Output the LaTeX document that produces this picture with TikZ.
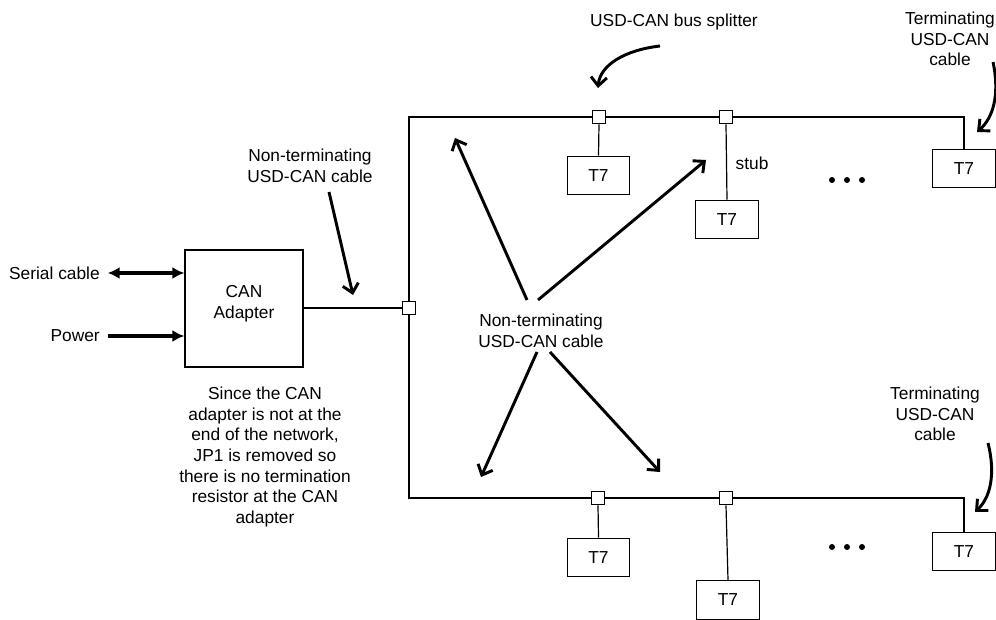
\documentclass[tikz,border=0pt]{standalone}
\usepackage{fontspec}
\setmainfont{Liberation Sans}
\usetikzlibrary{arrows.meta}
\tikzset{
  box/.style={draw, line width=0.9pt, minimum width=47pt, minimum height=29pt, inner sep=0pt},
  splitter/.style={draw, line width=0.9pt, minimum size=10pt, inner sep=0pt},
  bus/.style={line width=0.9pt},
  callout/.style={line width=2.2pt, -{Straight Barb[length=6.5pt,width=12pt]}},
  feed/.style={line width=2.6pt},
  feedtip/.tip={Latex[length=9pt,width=9pt]},
  label/.style={align=center, inner sep=0.75pt, font=\fontsize{13}{15.5}\selectfont}
}
\begin{document}
\begin{tikzpicture}[x=0.75pt,y=0.75pt,yscale=-1,xscale=1]
\useasboundingbox (0,0) rectangle (996,620);

%CAN adapter
\node [draw, line width=0.9pt, minimum width=88.5pt, minimum height=87.75pt] (adapter) at (244,308.5) {};
\node [label] (adaptertext) at (244,304) {CAN\\Adapter};

%Splitters
\node [splitter] (sp0) at (409,308) {};
\node [splitter] (spT1) at (599,117) {};
\node [splitter] (spT2) at (726,117) {};
\node [splitter] (spB1) at (598,498) {};
\node [splitter] (spB2) at (726,498) {};

%T7 modules
\node [box, label] (tT1) at (598.5,175.5) {T7};
\node [box, label] (tT2) at (727,219.5) {T7};
\node [box, label] (tT3) at (964,168.5) {T7};
\node [box, label] (tB1) at (598.5,557.5) {T7};
\node [box, label] (tB2) at (728,600) {T7};
\node [box, label] (tB3) at (964,551.5) {T7};

%Bus lines
\draw [bus] (adapter.east |- sp0) -- (sp0.west);
\draw [bus] (sp0.north) |- (spT1.west);
\draw [bus] (spT1.east) -- (spT2.west);
\draw [bus] (spT2.east) -| (tT3.north);
\draw [bus] (sp0.south) |- (spB1.west);
\draw [bus] (spB1.east) -- (spB2.west);
\draw [bus] (spB2.east) -| (tB3.north);
%Stubs
\draw [bus] (spT1.south) -- (tT1.north);
\draw [bus] (spT2.south) -- (tT2.north);
\draw [bus] (spB1.south) -- (tB1.north);
\draw [bus] (spB2.south) -- (tB2.north);

%Serial cable and power
\node [label, anchor=east] (serial) at (101,273) {Serial cable};
\node [label, anchor=east] (power) at (101,336) {Power};
\draw [feed, feedtip-feedtip] ([xshift=5pt]serial.east) -- (serial.east -| adapter.west);
\draw [feed, -feedtip] ([xshift=5pt]power.east) -- (power.east -| adapter.west);

% Text Node
\node [label] (note) at (265,457) {Since the CAN\\adapter is not at the\\end of the network,\\JP1 is removed so\\there is no termination\\resistor at the CAN\\adapter};
% Text Node
\node [label] (stub) at (752,163) {stub};
% Text Node
\node [label] (nontermA) at (310,166) {Non-terminating\\USD-CAN cable};
% Text Node
\node [label] (nontermB) at (541,331) {Non-terminating\\USD-CAN cable};
% Text Node
\node [label] (splitlabel) at (674,22) {USD-CAN bus splitter};
% Text Node
\node [label] (termT) at (950,39) {Terminating\\USD-CAN\\cable};
% Text Node
\node [label] (termB) at (935,414) {Terminating\\USD-CAN\\cable};

%Dots
\foreach \x in {832,847,862} {
  \fill (\x,180) circle (3);
  \fill (\x,547) circle (3);
}

%Callout arrows
\coordinate (aTs) at (329,192);
\coordinate (aTe) at (353,295);
\draw [callout] (aTs) -- (aTe);
\coordinate (a1s) at (527,300);
\coordinate (a1e) at (455,138);
\draw [callout] (a1s) -- (a1e);
\coordinate (a2s) at (538,300);
\coordinate (a2e) at (706,160);
\draw [callout] (a2s) -- (a2e);
\coordinate (a3s) at (537,352);
\coordinate (a3e) at (481,477);
\draw [callout] (a3s) -- (a3e);
\coordinate (a4s) at (550,352);
\coordinate (a4e) at (660,472);
\draw [callout] (a4s) -- (a4e);
\coordinate (sps) at (660,46);
\coordinate (spe) at (598,88);
\draw [callout] (sps) .. controls (625,50) and (600,65) .. (spe);
\coordinate (tTs) at (993,62);
\coordinate (tTe) at (977,132);
\draw [callout] (tTs) .. controls (1000,95) and (993,118) .. (tTe);
\coordinate (tBs) at (988,443);
\coordinate (tBe) at (975,512);
\draw [callout] (tBs) .. controls (996,475) and (990,498) .. (tBe);

\end{tikzpicture}
\end{document}
